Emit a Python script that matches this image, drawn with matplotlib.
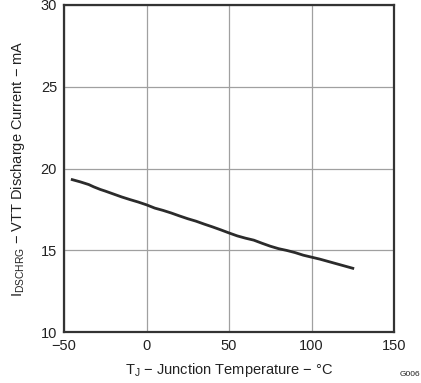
import matplotlib
matplotlib.use("Agg")
import matplotlib.pyplot as plt

plt.rcParams['font.family'] = ['Liberation Sans', 'DejaVu Sans']
plt.rcParams['mathtext.fontset'] = 'custom'
plt.rcParams['mathtext.rm'] = 'Liberation Sans'

# junction temperature (degC) vs discharge current (mA)
temperature = [-45, -40, -35, -32, -28, -25, -20, -15, -10, -5, 0, 5, 10, 15,
               20, 25, 30, 35, 40, 45, 50, 55, 60, 65, 70, 75, 80, 85, 90, 95,
               100, 105, 110, 115, 120, 125]
current = [19.32, 19.18, 19.02, 18.88, 18.72, 18.62, 18.44, 18.26, 18.10, 17.95,
           17.78, 17.58, 17.44, 17.28, 17.10, 16.93, 16.78, 16.60, 16.43, 16.25,
           16.06, 15.88, 15.74, 15.62, 15.43, 15.25, 15.10, 14.99, 14.86, 14.70,
           14.58, 14.46, 14.32, 14.18, 14.04, 13.90]

xticks = [-50, 0, 50, 100, 150]
yticks = [10, 15, 20, 25, 30]

fig = plt.figure(figsize=(4.21, 3.83), dpi=100)
ax = fig.add_axes([0.152, 0.133, 0.784, 0.854])

ax.plot(temperature, current, color='#2b2b2b', linewidth=2.0)

ax.set_xlim(-50, 150)
ax.set_ylim(10, 30)
ax.set_xticks(xticks)
ax.set_yticks(yticks)
ax.set_xticklabels(['\u221250' if t < 0 else str(t) for t in xticks])
ax.grid(True, color='#a0a0a0', linewidth=0.9)
ax.tick_params(length=0, labelsize=10.5, colors='#222222', pad=5)
for spine in ax.spines.values():
    spine.set_linewidth(1.6)
    spine.set_color('#333333')

ax.set_xlabel(r'T$_\mathregular{J}$' + ' \u2212 Junction Temperature \u2212 \u00b0C',
              fontsize=10.5, color='#222222', labelpad=6)
ax.set_ylabel(r'I$_\mathregular{DSCHRG}$' + ' \u2212 VTT Discharge Current \u2212 mA',
              fontsize=10.5, color='#222222', labelpad=10)

fig.text(0.998, 0.012, 'G006', fontsize=6, color='#222222', ha='right', va='bottom')

fig.savefig('out.png', dpi=100)
